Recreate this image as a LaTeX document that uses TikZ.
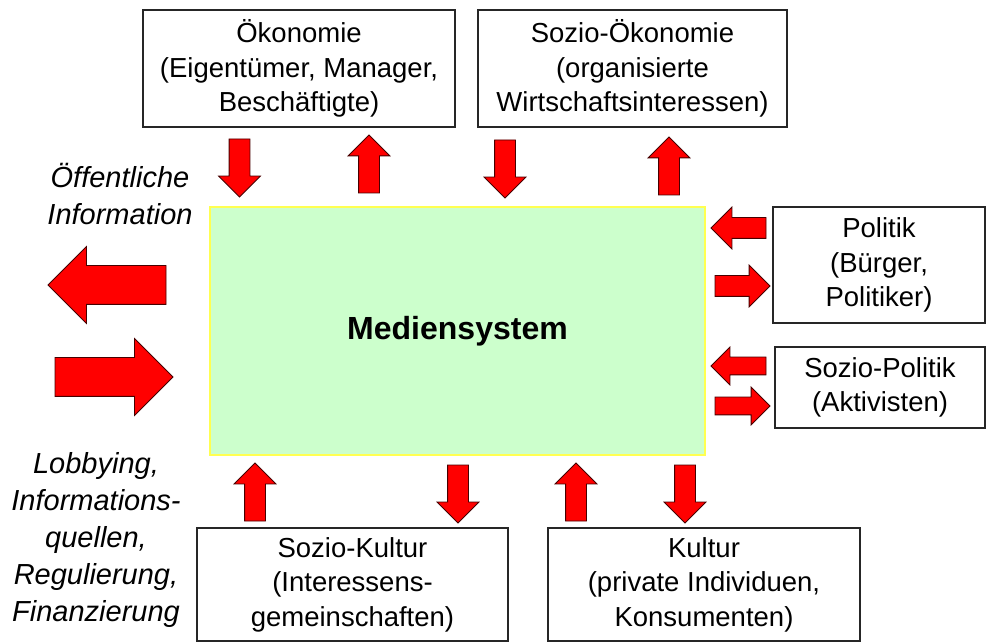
\documentclass[tikz,border=0pt]{standalone}
\usepackage{fontspec}
\setmainfont{Liberation Sans}
\usepackage{tikz}
\usetikzlibrary{shapes,arrows.meta,positioning}
\definecolor{mediengreen}{RGB}{204,255,204}
\definecolor{medienyellow}{RGB}{255,255,80}
\definecolor{flowred}{RGB}{255,0,0}
\definecolor{flowrim}{RGB}{70,0,0}

\begin{document}
\begin{tikzpicture}
  [
    x=1pt, y=-1pt,
    Box/.style={rectangle, draw=black!85, line width=1.2pt, fill=white, align=center, inner sep=0pt, font=\fontsize{27.5}{34.5}\selectfont},
    Media/.style={rectangle, draw=medienyellow, line width=2pt, fill=mediengreen, inner sep=0pt, font=\fontsize{32}{38}\selectfont\bfseries},
    Side/.style={align=center, font=\fontsize{29}{37}\selectfont\itshape},
    Flow/.style={single arrow, draw=flowrim, fill=flowred, line width=0.8pt, outer sep=0pt, inner sep=10pt, single arrow head extend=10.5pt, minimum height=58pt, anchor=tip},
    Small/.style={Flow, inner sep=8.5pt, single arrow head extend=10pt, minimum height=55pt},
    Big/.style={Flow, inner sep=19pt, single arrow head extend=19pt, minimum height=118pt}
  ]
  \useasboundingbox (0,0) rectangle (986,644);

  % Nodes
  \node[Media, minimum width=495pt, minimum height=248pt] (medien) at (457.5,331) {Mediensystem};

  \node[Box, minimum width=312pt, minimum height=117pt] (oekonomie) at (299,68.5) {Ökonomie\\(Eigentümer, Manager,\\Beschäftigte)};

  \node[Box, minimum width=309pt, minimum height=117pt] (soziooekonomie) at (632.5,68.5) {Sozio-Ökonomie\\(organisierte\\Wirtschaftsinteressen)};

  \node[Box, minimum width=212pt, minimum height=116pt] (politik) at (879,265) {Politik\\(Bürger,\\Politiker)};

  \node[Box, minimum width=210pt, minimum height=81pt] (soziopolitik) at (880,387.5) {Sozio-Politik\\(Aktivisten)};

  \node[Box, minimum width=311pt, minimum height=113pt] (soziokultur) at (352.5,584.5) {Sozio-Kultur\\(Interessens-\\gemeinschaften)};

  \node[Box, minimum width=312pt, minimum height=113pt] (kultur) at (704,584.5) {Kultur\\(private Individuen,\\Konsumenten)};

  \node[Side] (oeffentlich) at (120,194) {Öffentliche\\Information};

  \node[Side] (lobbying) at (96,540) {Lobbying,\\Informations-\\quellen,\\Regulierung,\\Finanzierung};

  % Arrows
  \node[Flow, shape border rotate=270] (oekdown) at (239.5,197) {};
  \node[Flow, shape border rotate=90] (oekup) at (369,135) {};
  \node[Flow, shape border rotate=270] (soekdown) at (505,198) {};
  \node[Flow, shape border rotate=90] (soekup) at (669,137) {};

  \node[Flow, shape border rotate=180, minimum height=55pt] (polin) at (711,228) {};
  \node[Flow, minimum height=55pt] (polout) at (770,286) {};
  \node[Small, shape border rotate=180] (spin) at (711,366) {};
  \node[Small] (spout) at (770,406) {};

  \node[Flow, shape border rotate=90] (skup) at (255,463) {};
  \node[Flow, shape border rotate=270] (skdown) at (458,523) {};
  \node[Flow, shape border rotate=90] (kup) at (576,463) {};
  \node[Flow, shape border rotate=270] (kdown) at (685,523) {};

  \node[Big, shape border rotate=180] (infoout) at (48,285) {};
  \node[Big] (infoin) at (173,377) {};

\end{tikzpicture}
\end{document}
